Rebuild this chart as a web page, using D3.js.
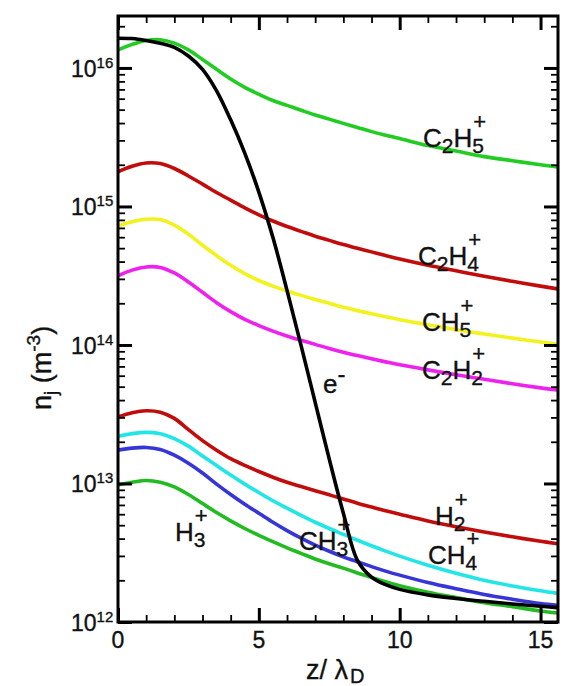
<!DOCTYPE html>
<html>
<head>
<meta charset="utf-8">
<script src="https://cdn.jsdelivr.net/npm/d3@7/dist/d3.min.js"></script>
<style>
  html, body { margin: 0; padding: 0; background: #fff; }
  svg { display: block; font-family: "Liberation Sans", Arial, Helvetica, sans-serif; }
  text { fill: #111; stroke: #111; stroke-width: 0.35px; }
</style>
</head>
<body>
<svg id="chart" width="566" height="686"></svg>
<script>
// Normalised distance z / lambda_D
const z = [0, 0.5, 1, 1.5, 2, 2.5, 3, 3.5, 4, 4.5, 5, 5.5, 6, 6.5, 7, 7.5, 8, 8.5, 9, 9.5, 10, 11, 12, 13, 14, 15, 15.6];

// Number densities n_j (m^-3)
const nElectron = [1.64e16, 1.63e16, 1.58e16, 1.51e16, 1.41e16, 1.22e16, 9.77e15, 6.84e15, 4.22e15, 2.43e15, 1.27e15, 5.96e14, 2.48e14, 9.89e13, 3.85e13, 1.50e13, 6.10e12, 2.79e12, 2.11e12, 1.86e12, 1.72e12, 1.57e12, 1.48e12, 1.41e12, 1.35e12, 1.30e12, 1.27e12];
const nC2H5 = [1.35e16, 1.48e16, 1.58e16, 1.60e16, 1.51e16, 1.35e16, 1.15e16, 9.77e15, 8.32e15, 7.24e15, 6.46e15, 5.82e15, 5.37e15, 4.95e15, 4.57e15, 4.27e15, 3.98e15, 3.72e15, 3.47e15, 3.27e15, 3.09e15, 2.75e15, 2.51e15, 2.29e15, 2.14e15, 2.00e15, 1.93e15];
const nC2H4 = [1.78e15, 1.95e15, 2.06e15, 2.04e15, 1.88e15, 1.66e15, 1.45e15, 1.26e15, 1.11e15, 9.77e14, 8.71e14, 7.85e14, 7.16e14, 6.61e14, 6.10e14, 5.69e14, 5.31e14, 4.99e14, 4.70e14, 4.42e14, 4.17e14, 3.76e14, 3.43e14, 3.13e14, 2.88e14, 2.66e14, 2.54e14];
const nCH5 = [7.24e14, 7.76e14, 8.09e14, 8.04e14, 7.33e14, 6.31e14, 5.25e14, 4.42e14, 3.76e14, 3.27e14, 2.92e14, 2.66e14, 2.45e14, 2.28e14, 2.13e14, 2.00e14, 1.87e14, 1.77e14, 1.68e14, 1.60e14, 1.52e14, 1.40e14, 1.29e14, 1.20e14, 1.12e14, 1.05e14, 1.01e14];
const nC2H2 = [3.16e14, 3.47e14, 3.66e14, 3.63e14, 3.31e14, 2.85e14, 2.40e14, 2.02e14, 1.74e14, 1.53e14, 1.38e14, 1.26e14, 1.16e14, 1.08e14, 1.01e14, 9.44e13, 8.87e13, 8.38e13, 7.94e13, 7.55e13, 7.21e13, 6.61e13, 6.10e13, 5.65e13, 5.25e13, 4.90e13, 4.73e13];
const nH2 = [3.02e13, 3.24e13, 3.35e13, 3.27e13, 2.95e13, 2.45e13, 2.04e13, 1.74e13, 1.51e13, 1.35e13, 1.22e13, 1.11e13, 1.02e13, 9.51e12, 8.87e12, 8.28e12, 7.73e12, 7.21e12, 6.76e12, 6.35e12, 6.00e12, 5.37e12, 4.88e12, 4.47e12, 4.12e12, 3.83e12, 3.67e12];
const nCH4 = [2.19e13, 2.29e13, 2.34e13, 2.29e13, 2.11e13, 1.86e13, 1.58e13, 1.35e13, 1.15e13, 9.89e12, 8.61e12, 7.50e12, 6.64e12, 5.89e12, 5.25e12, 4.73e12, 4.29e12, 3.89e12, 3.55e12, 3.25e12, 2.99e12, 2.57e12, 2.25e12, 2.00e12, 1.82e12, 1.68e12, 1.61e12];
const nCH3 = [1.74e13, 1.80e13, 1.82e13, 1.76e13, 1.60e13, 1.40e13, 1.19e13, 9.89e12, 8.32e12, 7.08e12, 6.10e12, 5.25e12, 4.57e12, 4.03e12, 3.59e12, 3.24e12, 2.95e12, 2.72e12, 2.51e12, 2.33e12, 2.18e12, 1.93e12, 1.74e12, 1.58e12, 1.46e12, 1.36e12, 1.32e12];
const nH3 = [9.77e12, 1.02e13, 1.05e13, 1.02e13, 9.44e12, 8.32e12, 7.16e12, 6.17e12, 5.37e12, 4.73e12, 4.22e12, 3.80e12, 3.43e12, 3.13e12, 2.85e12, 2.63e12, 2.45e12, 2.26e12, 2.10e12, 1.95e12, 1.83e12, 1.64e12, 1.50e12, 1.38e12, 1.29e12, 1.20e12, 1.16e12];

// Axis ticks
const xMajorTicks = [0, 5, 10, 15];
const xMinorTicks = [1, 2, 3, 4, 6, 7, 8, 9, 11, 12, 13, 14];
const yDecades = [12, 13, 14, 15, 16];

// Series, drawn in this order
const series = [
  { values: nH3,  color: "#22bb22" },
  { values: nCH3, color: "#3636d8" },
  { values: nCH4, color: "#22e6e6" },
  { values: nH2,  color: "#c20c0c" },
  { values: nC2H2, color: "#ee22ee" },
  { values: nCH5, color: "#f2f21e" },
  { values: nC2H4, color: "#c20c0c" },
  { values: nC2H5, color: "#22cc22" },
  { values: nElectron, color: "#000000" }
];

// Species labels: pieces of text, sub = subscript (with an optional charge stacked above), sup = superscript
const labels = [
  { x: 423, y: 147, parts: [["C"], ["2", "sub"], ["H"], ["5", "sub", "+"]] },
  { x: 418, y: 265, parts: [["C"], ["2", "sub"], ["H"], ["4", "sub", "+"]] },
  { x: 422, y: 331, parts: [["C"], ["H"], ["5", "sub", "+"]] },
  { x: 422, y: 379, parts: [["C"], ["2", "sub"], ["H"], ["2", "sub", "+"]] },
  { x: 323, y: 393, parts: [["e"], ["-", "sup"]] },
  { x: 435, y: 525, parts: [["H"], ["2", "sub", "+"]] },
  { x: 428, y: 564, parts: [["C"], ["H"], ["4", "sub", "+"]] },
  { x: 299, y: 550, parts: [["C"], ["H"], ["3", "sub", "+"]] },
  { x: 175, y: 541, parts: [["H"], ["3", "sub", "+"]] }
];

const margin = { left: 118, top: 16, right: 8, bottom: 64 };
const W = 566, H = 686;
const pw = W - margin.left - margin.right;
const ph = H - margin.top - margin.bottom;

const x = d3.scaleLinear().domain([0, 15.62]).range([0, pw]);
const y = d3.scaleLog().domain([1e12, Math.pow(10, 16.375)]).range([ph, 0]);

const svg = d3.select("#chart");
const g = svg.append("g").attr("transform", `translate(${margin.left},${margin.top})`);

g.append("clipPath").attr("id", "plotClip")
  .append("rect").attr("width", pw).attr("height", ph);

// Curves
const line = d3.line()
  .x((d, i) => x(z[i]))
  .y(d => y(d))
  .curve(d3.curveCatmullRom.alpha(0.5));

g.append("g").attr("clip-path", "url(#plotClip)")
  .selectAll("path").data(series).join("path")
  .attr("d", s => line(s.values))
  .attr("fill", "none")
  .attr("stroke", s => s.color)
  .attr("stroke-width", 3.6)
  .attr("stroke-linejoin", "round");

// Ticks (pointing inward on all four sides)
function styleAxis(sel, width) {
  sel.select(".domain").remove();
  sel.selectAll(".tick line").attr("stroke", "#000").attr("stroke-width", width);
  sel.selectAll(".tick text").remove();
}
g.append("g").attr("transform", `translate(0,${ph})`)
  .call(d3.axisBottom(x).tickValues(xMajorTicks).tickSize(-14)).call(s => styleAxis(s, 3));
g.append("g").attr("transform", `translate(0,${ph})`)
  .call(d3.axisBottom(x).tickValues(xMinorTicks).tickSize(-7)).call(s => styleAxis(s, 1.8));
g.append("g")
  .call(d3.axisTop(x).tickValues(xMajorTicks).tickSize(-14)).call(s => styleAxis(s, 3));
g.append("g")
  .call(d3.axisTop(x).tickValues(xMinorTicks).tickSize(-7)).call(s => styleAxis(s, 1.8));

const yMajor = yDecades.map(e => Math.pow(10, e));
const yMinor = [];
yDecades.forEach(e => { for (let m = 2; m <= 9; m++) { const v = m * Math.pow(10, e); if (v < y.domain()[1]) yMinor.push(v); } });

g.append("g").call(d3.axisLeft(y).tickValues(yMajor).tickSize(-14)).call(s => styleAxis(s, 3));
g.append("g").call(d3.axisLeft(y).tickValues(yMinor).tickSize(-7)).call(s => styleAxis(s, 1.8));
g.append("g").attr("transform", `translate(${pw},0)`)
  .call(d3.axisRight(y).tickValues(yMajor).tickSize(-14)).call(s => styleAxis(s, 3));
g.append("g").attr("transform", `translate(${pw},0)`)
  .call(d3.axisRight(y).tickValues(yMinor).tickSize(-7)).call(s => styleAxis(s, 1.8));

// Frame
g.append("rect").attr("width", pw).attr("height", ph)
  .attr("fill", "none").attr("stroke", "#000").attr("stroke-width", 3);

// X tick labels
g.append("g").selectAll("text").data(xMajorTicks).join("text")
  .attr("x", d => x(d)).attr("y", ph + 26)
  .attr("text-anchor", "middle").attr("font-size", 23)
  .text(d => d);

// Y tick labels: 10 with exponent, as one text each
g.append("g").selectAll("text").data(yDecades).join("text")
  .attr("x", -47).attr("y", e => y(Math.pow(10, e)) + 9)
  .attr("font-size", 23)
  .call(t => t.append("tspan").text("10"))
  .call(t => t.append("tspan").attr("font-size", 15).attr("dy", -9).text(e => e));

// Axis titles
const xt = svg.append("text").attr("x", 306).attr("y", 679)
  .attr("font-size", 27);
xt.append("tspan").text("z/ λ");
xt.append("tspan").attr("font-size", 20).attr("dy", 4).attr("dx", 2).text("D");

const yt = svg.append("text")
  .attr("transform", "translate(51,410) rotate(-90)")
  .attr("font-size", 27);
yt.append("tspan").text("n");
yt.append("tspan").attr("font-size", 19).attr("dy", 6).text("j");
yt.append("tspan").attr("dy", -6).text(" (m");
yt.append("tspan").attr("font-size", 19).attr("dy", -11).text("-3");
yt.append("tspan").attr("dy", 11).text(")");

// Species labels, each one text element built from tspans
const mainSize = 26, subSize = 21, plusSize = 22;
const probe = svg.append("text").attr("x", -100).attr("y", -100);
function textWidth(str, size) {
  probe.attr("font-size", size).text(str);
  return probe.node().getComputedTextLength();
}
labels.forEach(lb => {
  const t = svg.append("text").attr("x", lb.x).attr("y", lb.y).attr("font-size", mainSize);
  let shift = 0;   // current baseline offset from the label baseline
  lb.parts.forEach(p => {
    const [txt, kind, stacked] = p;
    let target = 0, size = mainSize;
    if (kind === "sub") { target = 6; size = subSize; }
    if (kind === "sup") { target = -11; size = 24; }
    t.append("tspan").attr("font-size", size).attr("dy", target - shift).text(txt);
    shift = target;
    if (stacked) {
      const w = textWidth(txt, size);
      t.append("tspan").attr("font-size", plusSize)
        .attr("dx", -w + 1).attr("dy", -18 - shift).text(stacked);
      shift = -18;
    }
  });
});
probe.remove();
</script>
</body>
</html>
